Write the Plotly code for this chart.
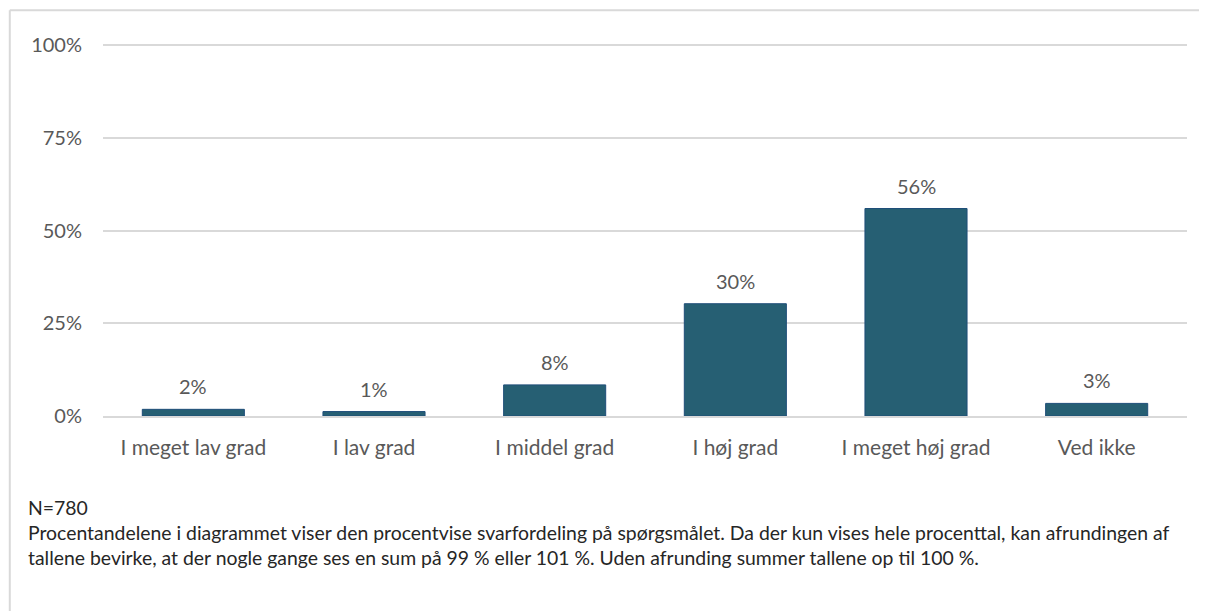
import plotly.graph_objects as go

# svarkategorier og andele (procent)
categories = ["I meget lav grad", "I lav grad", "I middel grad", "I høj grad", "I meget høj grad", "Ved ikke"]
shares = [1.8, 1.2, 8.4, 30.3, 56.0, 3.4]
y_ticks = [0, 25, 50, 75, 100]
y_tick_labels = ["0%", "25%", "50%", "75%", "100%"]

note_text = (
    "N=780<br>"
    "Procentandelene i diagrammet viser den procentvise svarfordeling på spørgsmålet. "
    "Da der kun vises hele procenttal, kan afrundingen af<br>"
    "tallene bevirke, at der nogle gange ses en sum på 99 % eller 101 %. "
    "Uden afrunding summer tallene op til 100 %."
)

font_name = "Lato"
grey_txt = "#595959"
grid_col = "#d9d9d9"

fig = go.Figure()
fig.add_trace(go.Bar(
    x=categories, y=shares,
    marker=dict(color="#265f73", line=dict(color="#1f4e79", width=1)),
    hoverinfo="skip",
))

# dataetiketter over søjlerne
for cat, val in zip(categories, shares):
    fig.add_annotation(
        x=cat, y=val, text=f"{val:.0f}%", showarrow=False,
        yanchor="middle", yshift=23,
        font=dict(family=font_name, size=20, color=grey_txt),
    )

# fodnote
fig.add_annotation(
    xref="paper", yref="paper", x=-0.071, y=-0.21,
    xanchor="left", yanchor="top", align="left", showarrow=False,
    text=note_text,
    font=dict(family=font_name, size=19.4, color="#262626"),
)

# ramme (top og venstre kant)
fig.add_shape(type="line", xref="paper", yref="paper", x0=-0.086, x1=1.03, y0=1.091, y1=1.091,
              line=dict(color=grid_col, width=2))
fig.add_shape(type="line", xref="paper", yref="paper", x0=-0.086, x1=-0.086, y0=1.091, y1=-0.55,
              line=dict(color=grid_col, width=2))

# siden har 8 px body-margen, derfor lidt mindre figur
fig.update_layout(
    width=1199, height=603,
    margin=dict(l=95, r=20, t=36, b=195),
    paper_bgcolor="white", plot_bgcolor="white",
    bargap=0.435, showlegend=False,
    font=dict(family=font_name, size=20, color=grey_txt),
)
fig.update_xaxes(
    showgrid=False, showline=True, linecolor=grid_col, linewidth=2,
    ticks="", ticklabelstandoff=12,
    tickfont=dict(family=font_name, size=21, color=grey_txt),
)
fig.update_yaxes(
    range=[0, 100.4], tickvals=y_ticks, ticktext=y_tick_labels,
    showgrid=True, gridcolor=grid_col, gridwidth=1.5,
    zeroline=False, showline=False, ticks="", ticklabelstandoff=20,
    tickfont=dict(family=font_name, size=20, color=grey_txt),
)

fig.write_html("out.html")
